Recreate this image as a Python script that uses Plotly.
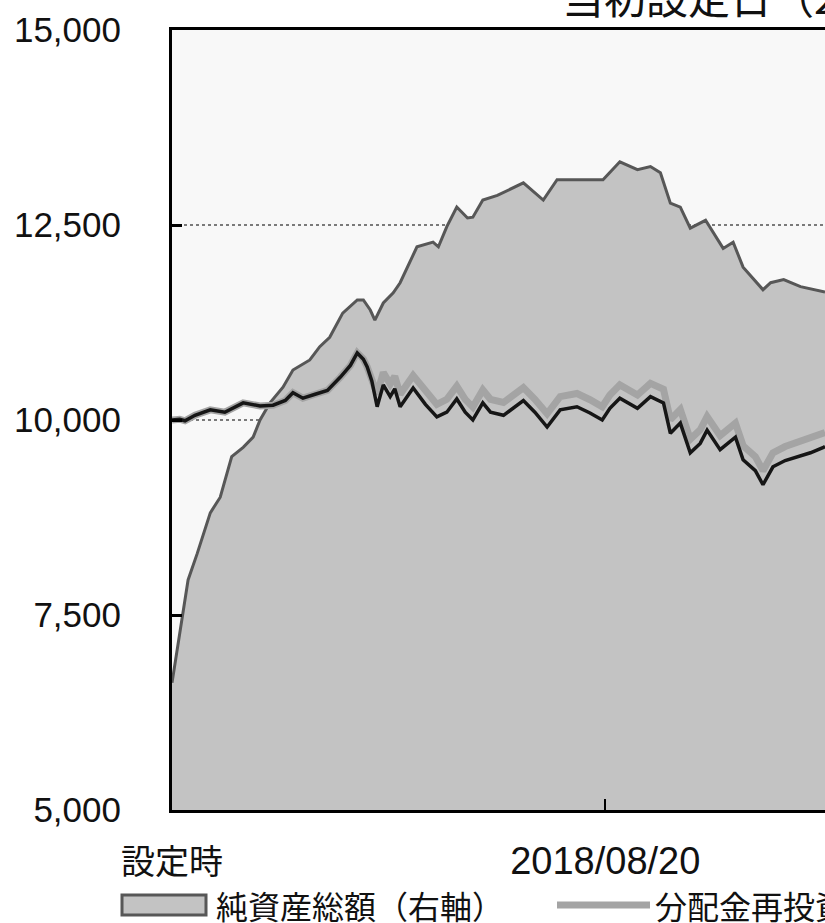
import datetime as dt
import plotly.graph_objects as go

# ---------------- data ----------------
inception = dt.date(2017, 1, 31)
end_day = 853

# days since inception for NAV series
nav_days = [0, 10, 17, 30, 50, 69, 93, 115, 132, 148, 158, 171, 187, 203, 220, 233, 242, 250,
            255, 261, 268, 276, 285, 291, 298, 315, 331, 346, 359, 372, 383, 393, 406, 416,
            433, 446, 459, 474, 490, 507, 529, 546, 562, 572, 585, 608, 625, 642, 651, 664,
            677, 690, 699, 716, 736, 746, 762, 772, 785, 801, 817, 834, 851, 853]
nav_values = [10000, 10010, 9990, 10060, 10130, 10100, 10220, 10180, 10190, 10250, 10350, 10280,
              10330, 10380, 10550, 10700, 10860, 10780, 10680, 10500, 10170, 10450, 10300, 10400,
              10170, 10410, 10200, 10040, 10100, 10270, 10100, 10000, 10220, 10100, 10060, 10150,
              10250, 10100, 9910, 10130, 10170, 10090, 10000, 10150, 10280, 10150, 10300, 10220,
              9830, 9960, 9580, 9700, 9870, 9620, 9780, 9490, 9350, 9170, 9400, 9480, 9530,
              9580, 9650, 9660]
reinvest_values = [10000, 10010, 9990, 10060, 10130, 10100, 10220, 10180, 10190, 10250, 10350, 10280,
                   10330, 10380, 10550, 10700, 10860, 10780, 10680, 10500, 10330, 10610, 10460, 10560,
                   10330, 10570, 10360, 10200, 10265, 10435, 10265, 10165, 10385, 10265, 10225, 10315,
                   10415, 10265, 10080, 10300, 10340, 10260, 10170, 10320, 10450, 10320, 10470, 10395,
                   10005, 10135, 9755, 9875, 10045, 9800, 9960, 9670, 9530, 9350, 9580, 9660, 9710,
                   9760, 9830, 9840]

# net assets (right axis, 億円)
asset_days = [0, 7, 14, 21, 33, 50, 63, 78, 93, 106, 115, 128, 145, 158, 180, 193, 206, 223, 242,
              250, 259, 265, 276, 289, 298, 320, 341, 348, 359, 372, 386, 393, 406, 425, 459, 485,
              503, 537, 563, 585, 608, 625, 638, 651, 664, 677, 697, 720, 733, 746, 772, 782, 799,
              821, 851, 853]
asset_values = [16.3, 20.9, 25.3, 29.5, 32.9, 38.1, 40.1, 45.3, 46.5, 47.8, 50.0, 52.2, 54.2, 56.4,
                57.7, 59.4, 60.6, 63.7, 65.4, 65.4, 64.1, 62.8, 65.0, 66.3, 67.6, 72.2, 72.8, 72.2,
                74.8, 77.3, 75.9, 76.0, 78.2, 78.8, 80.4, 78.2, 80.8, 80.8, 80.8, 83.1, 82.1, 82.5,
                81.7, 77.8, 77.3, 74.6, 75.6, 72.0, 72.8, 69.6, 66.7, 67.6, 68.0, 67.1, 66.4, 66.4]

series_names = ["純資産総額（右軸）", "分配金再投資基準価額", "基準価額"]
title_text = "当初設定日（2017/01/31）"

x_tick_dates = [inception, dt.date(2018, 8, 20)]
x_tick_labels = ['<span style="font-size:34px">設定時</span>', "2018/08/20"]
y_tick_values = [5000, 7500, 10000, 12500, 15000]
y_tick_labels = ["5,000", "7,500", "10,000", "12,500", "15,000"]
left_range = [5000, 15000]
right_range = [0, 100]

nav_dates = [inception + dt.timedelta(days=d) for d in nav_days]
asset_dates = [inception + dt.timedelta(days=d) for d in asset_days]
x_range = [inception, inception + dt.timedelta(days=end_day)]

# ---------------- figure ----------------
W, H = 825, 923
ML, MR, MT, MB = 172, 0, 30, 113
PW, PH = W - ML - MR, H - MT - MB

def px_x(px):
    return (px - ML) / PW

def px_y(py):
    return (H - MB - py) / PH

LAT = "Liberation Sans, Noto Sans CJK JP, sans-serif"
JP = "Noto Sans CJK JP, sans-serif"

fig = go.Figure()
fig.add_trace(go.Scatter(x=asset_dates, y=asset_values, name=series_names[0], mode="lines",
                         line=dict(color="#575757", width=3), fill="tozeroy",
                         fillcolor="#c3c3c3", yaxis="y", showlegend=False))
fig.add_trace(go.Scatter(x=nav_dates, y=reinvest_values, name=series_names[1], mode="lines",
                         line=dict(color="#a4a4a4", width=7), yaxis="y2", showlegend=False))
fig.add_trace(go.Scatter(x=nav_dates, y=nav_values, name=series_names[2], mode="lines",
                         line=dict(color="#161616", width=3.5), yaxis="y2", showlegend=False))

fig.update_layout(
    width=W, height=H,
    margin=dict(l=ML, r=MR, t=MT, b=MB, pad=0),
    paper_bgcolor="white", plot_bgcolor="#f8f8f8",
    showlegend=False,
    xaxis=dict(type="date", range=x_range, tickvals=x_tick_dates, ticktext=x_tick_labels,
               ticks="inside", ticklen=11, tickwidth=2, tickcolor="black",
               showline=True, linecolor="black", linewidth=3, mirror=True,
               showgrid=False, zeroline=False,
               tickfont=dict(family=LAT, size=38, color="#111"), ticklabelstandoff=15),
    yaxis=dict(range=right_range, side="right", showgrid=False, zeroline=False,
               showticklabels=False, ticks="", showline=False),
    yaxis2=dict(range=left_range, overlaying="y", side="left", tickvals=y_tick_values,
                ticktext=y_tick_labels, ticks="inside", ticklen=10, tickwidth=3,
                tickcolor="black", showline=True, linecolor="black", linewidth=3,
                showgrid=True, gridcolor="#7a7a7a", griddash="dot", gridwidth=1.5,
                zeroline=False, tickfont=dict(family=LAT, size=35, color="#111"),
                ticklabelstandoff=41),
)

# title (cropped at the right edge in the source)
fig.add_annotation(text=title_text, xref="paper", yref="paper", x=px_x(560), y=px_y(28),
                   xanchor="left", yanchor="bottom", showarrow=False,
                   font=dict(family=JP, size=42, color="#111"))

# custom legend
fig.add_shape(type="rect", xref="paper", yref="paper",
              x0=px_x(122), x1=px_x(206), y0=px_y(915), y1=px_y(895),
              fillcolor="#c3c3c3", line=dict(color="#575757", width=3))
fig.add_annotation(text=series_names[0], xref="paper", yref="paper", x=px_x(214), y=px_y(905),
                   xanchor="left", yanchor="middle", showarrow=False,
                   font=dict(family=JP, size=32, color="#111"))
fig.add_shape(type="line", xref="paper", yref="paper",
              x0=px_x(557), x1=px_x(650), y0=px_y(905), y1=px_y(905),
              line=dict(color="#a4a4a4", width=7))
fig.add_annotation(text=series_names[1], xref="paper", yref="paper", x=px_x(653), y=px_y(905),
                   xanchor="left", yanchor="middle", showarrow=False,
                   font=dict(family=JP, size=32, color="#111"))

fig.write_html("out.html", config={"displayModeBar": False},
               post_script="document.body.style.margin='0';document.body.style.overflow='hidden';")
